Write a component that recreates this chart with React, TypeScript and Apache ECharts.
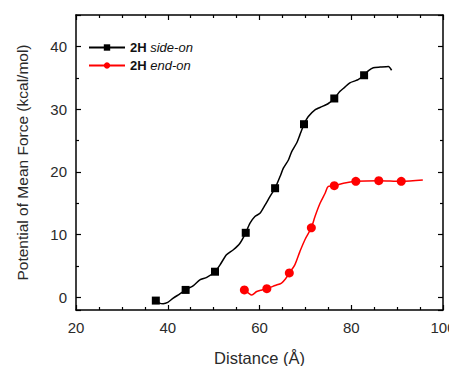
import React, { useEffect, useRef } from "react";
import * as echarts from "echarts";

const sideOnCurve: [number, number][] = [
  [37.4, -0.5], [38.2, -0.9], [39.0, -1.0], [40.0, -0.8], [41.2, -0.1], [42.5, 0.5],
  [43.9, 1.2], [45.6, 1.9], [47.0, 2.8], [48.5, 3.2], [50.3, 4.1], [51.4, 5.2],
  [52.8, 6.8], [54.3, 7.6], [55.7, 8.6], [57.0, 10.3], [57.9, 11.8], [59.0, 12.9],
  [60.1, 13.4], [61.2, 14.7], [62.3, 16.1], [63.4, 17.4], [64.5, 19.3], [65.2, 20.6],
  [66.3, 21.9], [67.0, 23.2], [68.1, 24.6], [68.8, 25.9], [69.7, 27.6], [70.6, 28.8],
  [72.1, 29.9], [73.6, 30.4], [75.0, 30.9], [76.3, 31.7], [77.5, 32.8], [78.6, 33.5],
  [79.7, 34.2], [80.8, 34.5], [81.5, 34.7], [82.8, 35.4], [83.7, 36.1], [84.8, 36.6],
  [86.3, 36.7], [88.1, 36.8], [88.8, 36.2],
];
const sideOnMarkerX = [37.4, 43.9, 50.3, 57.0, 63.4, 69.7, 76.3, 82.8];

const endOnCurve: [number, number][] = [
  [56.7, 1.2], [57.6, 0.7], [58.3, 0.4], [59.4, 0.95], [60.5, 1.2], [61.6, 1.4],
  [63.4, 1.9], [64.8, 2.3], [65.7, 3.0], [66.5, 3.9], [67.7, 5.2], [68.8, 7.3],
  [69.9, 9.2], [71.3, 11.1], [72.1, 12.9], [73.2, 15.0], [74.3, 16.6], [75.0, 17.7],
  [76.3, 17.8], [78.3, 18.2], [81.0, 18.5], [86.0, 18.6], [90.9, 18.5], [95.6, 18.7],
];
const endOnMarkerX = [56.7, 61.6, 66.5, 71.3, 76.3, 81.0, 86.0, 90.9];

const FONT = "Liberation Sans, Arial, sans-serif";
const TEXT = "#2a2a2a";

function buildData(curve: [number, number][], markers: number[]) {
  return curve.map(([x, y]) => ({
    value: [x, y],
    symbol: markers.includes(x) ? undefined : "none",
  }));
}

export default function App() {
  const ref = useRef<HTMLDivElement>(null);
  useEffect(() => {
    if (!ref.current) return;
    const chart = echarts.init(ref.current, null, { renderer: "svg" });
    const yAxisBase = (pos: "left" | "right", labels: boolean) => ({
      type: "value",
      position: pos,
      min: -2,
      max: 45,
      splitNumber: 5,
      splitLine: { show: false },
      axisLine: { show: true, onZero: false, lineStyle: { color: "#000", width: 1.5 } },
      axisTick: { show: true, inside: true, length: 5, lineStyle: { color: "#000", width: 1.2 } },
      minorTick: { show: true, splitNumber: 2, length: 3, lineStyle: { color: "#000", width: 1.2 } },
      axisLabel: {
        show: labels,
        showMinLabel: false,
        showMaxLabel: false,
        fontSize: 15,
        color: TEXT,
        fontFamily: FONT,
        margin: 9,
      },
      name: labels ? "Potential of Mean Force (kcal/mol)" : "",
      nameLocation: "middle",
      nameGap: 46,
      nameTextStyle: { fontSize: 15.5, color: TEXT, fontFamily: FONT },
    });
    const xAxisBase = (pos: "top" | "bottom", labels: boolean) => ({
      type: "value",
      position: pos,
      min: 20,
      max: 100,
      interval: 20,
      splitLine: { show: false },
      axisLine: { show: true, onZero: false, lineStyle: { color: "#000", width: 1.5 } },
      axisTick: { show: true, inside: true, length: 5, lineStyle: { color: "#000", width: 1.2 } },
      minorTick: { show: true, splitNumber: 4, length: 3, lineStyle: { color: "#000", width: 1.2 } },
      axisLabel: { show: labels, fontSize: 15, color: TEXT, fontFamily: FONT, margin: 10 },
      name: labels ? "Distance (Å)" : "",
      nameLocation: "middle",
      nameGap: 39,
      nameTextStyle: { fontSize: 16.5, color: TEXT, fontFamily: FONT },
    });
    chart.setOption({
      animation: false,
      grid: { left: 76, right: 14, top: 15, bottom: 56, outerBoundsMode: "none" },
      legend: {
        left: 83,
        top: 36,
        orient: "vertical",
        itemWidth: 36,
        itemHeight: 8,
        itemGap: 5,
        data: ["2H side-on", "2H end-on"],
        formatter: (name: string) => {
          const parts = name.split(" ");
          return `{b|${parts[0]}} {i|${parts[1]}}`;
        },
        textStyle: {
          color: "#111",
          fontFamily: FONT,
          fontSize: 13,
          rich: {
            b: { fontWeight: "bold", fontSize: 13, fontFamily: FONT, color: "#111" },
            i: { fontStyle: "italic", fontSize: 13, fontFamily: FONT, color: "#111" },
          },
        },
      },
      xAxis: [xAxisBase("bottom", true), xAxisBase("top", false)],
      yAxis: [yAxisBase("left", true), yAxisBase("right", false)],
      series: [
        {
          name: "2H side-on",
          type: "line",
          xAxisIndex: 0,
          yAxisIndex: 0,
          symbol: "rect",
          symbolSize: 8,
          showSymbol: true,
          smooth: 0.2,
          itemStyle: { color: "#000" },
          lineStyle: { color: "#000", width: 1.5 },
          data: buildData(sideOnCurve, sideOnMarkerX),
        },
        {
          name: "2H end-on",
          type: "line",
          xAxisIndex: 0,
          yAxisIndex: 0,
          symbol: "circle",
          symbolSize: 9,
          showSymbol: true,
          smooth: 0.3,
          itemStyle: { color: "#f00" },
          lineStyle: { color: "#f00", width: 1.5 },
          data: buildData(endOnCurve, endOnMarkerX),
        },
      ],
    });
    return () => chart.dispose();
  }, []);
  return <div ref={ref} style={{ width: 457, height: 366, marginLeft: -8, marginTop: -8 }} />;
}
